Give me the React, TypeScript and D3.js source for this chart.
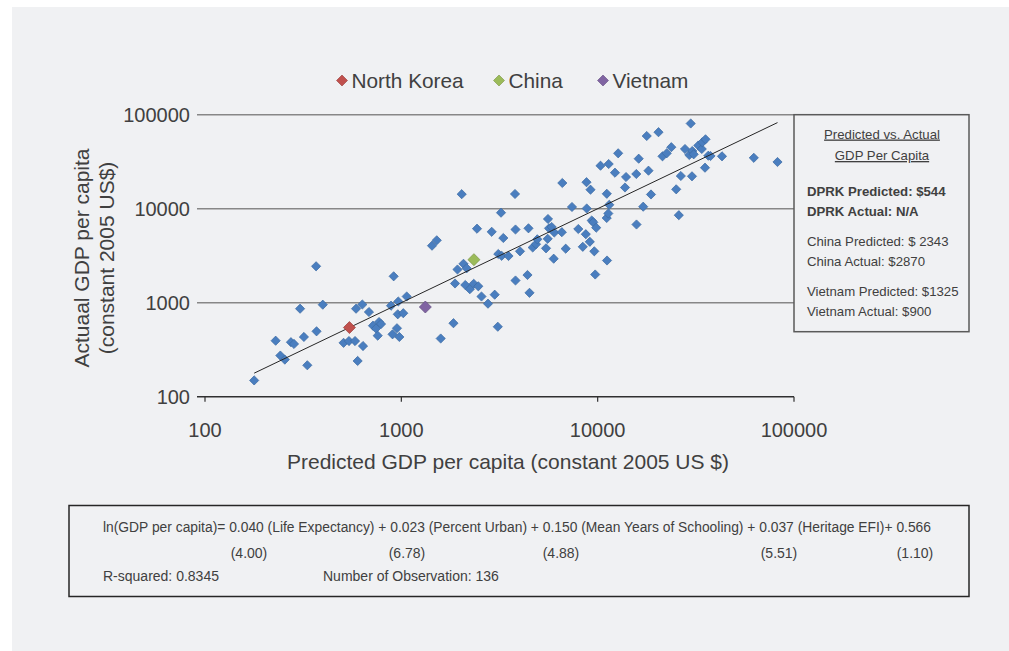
import React from 'react';
import * as d3 from 'd3';

// Predicted vs. actual GDP per capita (constant 2005 US$) for the sample countries
const predicted = [
  178, 229, 242, 255, 274, 284, 305, 319, 332, 368,
  370, 398, 508, 541, 581, 638, 599, 588, 633, 684,
  717, 770, 788, 743, 758, 914, 886, 965, 1065, 959,
  1023, 902, 950, 977, 1433, 1515, 1587, 1843, 1877, 1932,
  2073, 2152, 2030, 2117, 2233, 2337, 2466, 2429, 2560, 2763,
  2886, 2989, 3118, 3100, 3219, 3244, 3307, 3515, 3793, 3815,
  3815, 4022, 4391, 4443, 4496, 4668, 4852, 4927, 5457, 5565,
  5584, 5652, 5833, 6013, 5971, 6568, 6606, 6874, 7400, 7968,
  8400, 8702, 8774, 8795, 9120, 9195, 9325, 9501, 9613, 9716,
  9831, 10340, 11130, 11120, 11330, 11460, 11160, 11380, 12250, 12720,
  13780, 13950, 15730, 15770, 16180, 17060, 17780, 18150, 18690, 20410,
  21390, 22480, 23720, 25120, 25900, 26520, 27850, 29290, 29780, 30340,
  30840, 30230, 32550, 33910, 34120, 35420, 35210, 36610, 37570, 42980,
  62410, 82410,
];
const actual = [
  149, 394, 274, 248, 380, 364, 863, 432, 216, 2440,
  496, 952, 374, 391, 391, 346, 240, 863, 957, 796,
  569, 623, 593, 532, 446, 1909, 929, 1030, 1164, 753,
  773, 461, 535, 432, 4040, 4611, 416, 605, 1601, 2256,
  2593, 2323, 14270, 1543, 1392, 1589, 1495, 6126, 1164, 976,
  5679, 1217, 3297, 555, 9066, 3154, 4879, 3139, 14340, 6007,
  1723, 3522, 1971, 6187, 1274, 3865, 4191, 4726, 3790, 4784,
  7769, 6187, 6388, 5582, 2938, 5623, 18770, 3754, 10430, 6081,
  3933, 5354, 19130, 10050, 4446, 15930, 7490, 7166, 3522, 1995,
  6280, 28660, 14410, 7963, 8891, 11000, 2811, 29880, 24160, 38850,
  16810, 21730, 23400, 6791, 34030, 10500, 59350, 25370, 14170, 65140,
  36090, 38850, 45110, 16080, 8529, 22280, 43160, 37260, 80610, 41100,
  37900, 22120, 47020, 43160, 50860, 54740, 27300, 36630, 36360, 36090,
  34790, 31390,
];

// Highlighted countries (North Korea has no actual figure; it sits on the fit line)
const highlightNames = ['North Korea', 'China', 'Vietnam'];
const highlightPredicted = [544, 2343, 1325];
const highlightActual = [544, 2870, 900];
const highlightColors = ['#c0504d', '#9bbb59', '#8064a2'];

const tickValues = [100, 1000, 10000, 100000];

const noteTitle = ['Predicted vs. Actual', 'GDP Per Capita'];
const noteBold = ['DPRK Predicted: $544', 'DPRK Actual: N/A'];
const noteChina = ['China Predicted: $ 2343', 'China Actual: $2870'];
const noteVietnam = ['Vietnam Predicted: $1325', 'Vietnam Actual: $900'];

const equation =
  'ln(GDP per capita)= 0.040 (Life Expectancy) + 0.023 (Percent Urban) + 0.150 (Mean Years of Schooling) + 0.037 (Heritage EFI)+ 0.566';
const tStats = ['(4.00)', '(6.78)', '(4.88)', '(5.51)', '(1.10)'];
const tStatX = [249, 407, 561, 779, 915];
const rSquared = 'R-squared: 0.8345';
const observations = 'Number of Observation: 136';

const FONT = '"Liberation Sans", Arial, Helvetica, sans-serif';
const TEXT = '#404040';

export default function App() {
  const x = d3.scaleLog().domain([100, 100000]).range([205, 794]);
  const y = d3.scaleLog().domain([100, 100000]).range([396.7, 114.7]);

  const smallDiamond = d3.symbol(d3.symbolSquare).size(2 * 4.6 * 4.6)() as string;
  const bigDiamond = d3.symbol(d3.symbolSquare).size(2 * 6 * 6)() as string;
  const legendDiamond = d3.symbol(d3.symbolSquare).size(2 * 5.5 * 5.5)() as string;

  const allPred = predicted.concat(highlightPredicted);
  const lo = d3.min(allPred) as number;
  const hi = d3.max(allPred) as number;
  const fitLine = d3
    .line<number>()
    .x((v) => x(v))
    .y((v) => y(v))([lo, hi]) as string;

  const legendX = [342, 499, 603];

  return (
    <svg
      width={1009}
      height={651}
      style={{ position: 'absolute', left: 0, top: 0, fontFamily: FONT }}
    >
      <rect x={0} y={0} width={1009} height={651} fill="#ffffff" />
      <rect x={12} y={7} width={997} height={644} fill="#f0f1f3" />

      {/* legend */}
      {highlightNames.map((n, i) => (
        <g key={n}>
          <path
            d={legendDiamond}
            transform={`translate(${legendX[i]},80.5) rotate(45)`}
            fill={highlightColors[i]}
            stroke={d3.color(highlightColors[i])!.darker(0.6).toString()}
            strokeWidth={0.6}
          />
          <text x={legendX[i] + 9.5} y={87.5} fontSize={20.8} fill={TEXT}>
            {n}
          </text>
        </g>
      ))}

      {/* horizontal gridlines */}
      {tickValues.slice(1).map((t) => (
        <line key={t} x1={197} x2={794} y1={y(t)} y2={y(t)} stroke="#878787" strokeWidth={1.4} />
      ))}
      {/* x axis */}
      <line x1={197} x2={794} y1={y(100)} y2={y(100)} stroke="#303030" strokeWidth={1.4} />
      {tickValues.map((t) => (
        <line key={t} x1={x(t)} x2={x(t)} y1={y(100)} y2={y(100) + 5} stroke="#303030" strokeWidth={1.2} />
      ))}

      {/* tick labels */}
      {tickValues.map((t) => (
        <text key={'y' + t} x={190} y={y(t) + 7} textAnchor="end" fontSize={20} fill={TEXT}>
          {t}
        </text>
      ))}
      {tickValues.map((t) => (
        <text key={'x' + t} x={x(t)} y={437} textAnchor="middle" fontSize={20} fill={TEXT}>
          {t}
        </text>
      ))}

      {/* axis titles */}
      <text x={508} y={469} textAnchor="middle" fontSize={21} fill={TEXT}>
        Predicted GDP per capita (constant 2005 US $)
      </text>
      <text transform="translate(89,258) rotate(-90)" textAnchor="middle" fontSize={21} fill={TEXT}>
        Actuaal GDP per capita
      </text>
      <text transform="translate(114,258) rotate(-90)" textAnchor="middle" fontSize={21} fill={TEXT}>
        (constant 2005 US$)
      </text>

      {/* countries */}
      {predicted.map((p, i) => (
        <path
          key={i}
          d={smallDiamond}
          transform={`translate(${x(p)},${y(actual[i])}) rotate(45)`}
          fill="#4a7ebf"
          stroke="#3c6aa3"
          strokeWidth={0.7}
        />
      ))}

      {/* fit line: predicted = actual */}
      <path d={fitLine} fill="none" stroke="#262626" strokeWidth={1} />

      {highlightNames.map((n, i) => (
        <path
          key={n}
          d={bigDiamond}
          transform={`translate(${x(highlightPredicted[i])},${y(highlightActual[i])}) rotate(45)`}
          fill={highlightColors[i]}
          stroke={d3.color(highlightColors[i])!.darker(0.6).toString()}
          strokeWidth={0.7}
        />
      ))}

      {/* note box */}
      <rect x={794} y={114.7} width={175} height={217} fill="none" stroke="#5a5a5a" strokeWidth={1.5} />
      {noteTitle.map((s, i) => (
        <text
          key={s}
          x={882}
          y={138.5 + i * 21.5}
          textAnchor="middle"
          fontSize={13.2}
          fill={TEXT}
          style={{ textDecoration: 'underline' }}
        >
          {s}
        </text>
      ))}
      {noteBold.map((s, i) => (
        <text key={s} x={807} y={195.5 + i * 20} fontSize={13.2} fontWeight="bold" fill={TEXT}>
          {s}
        </text>
      ))}
      {noteChina.map((s, i) => (
        <text key={s} x={807} y={245.5 + i * 20} fontSize={13.2} fill={TEXT}>
          {s}
        </text>
      ))}
      {noteVietnam.map((s, i) => (
        <text key={s} x={807} y={295.5 + i * 20} fontSize={13.2} fill={TEXT}>
          {s}
        </text>
      ))}

      {/* regression box */}
      <rect x={69} y={505.5} width={900} height={91} fill="none" stroke="#262626" strokeWidth={1.5} />
      <text x={103} y={532} fontSize={14} fill={TEXT} textLength={828} lengthAdjust="spacingAndGlyphs">
        {equation}
      </text>
      {tStats.map((s, i) => (
        <text key={s} x={tStatX[i]} y={558} textAnchor="middle" fontSize={14} fill={TEXT}>
          {s}
        </text>
      ))}
      <text x={103} y={581} fontSize={14} fill={TEXT}>
        {rSquared}
      </text>
      <text x={323} y={581} fontSize={14} fill={TEXT}>
        {observations}
      </text>
    </svg>
  );
}
